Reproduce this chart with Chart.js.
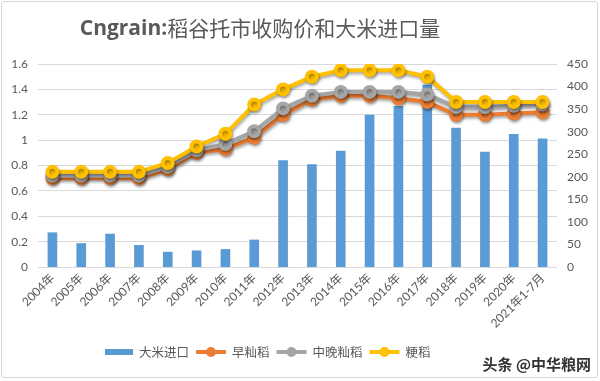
<!DOCTYPE html>
<html><head><meta charset="utf-8">
<script src="https://cdn.jsdelivr.net/npm/chart.js@4.4.1/dist/chart.umd.min.js"></script>
<style>
html,body{margin:0;padding:0;background:#fff;}
#wrap{position:relative;width:600px;height:381px;}
#frame{position:absolute;left:1px;top:1px;width:597px;height:377px;border:1px solid #d6d6d6;border-radius:3px;box-sizing:border-box;pointer-events:none}
canvas{position:absolute;left:0;top:0}
</style></head><body>
<div id="wrap"><canvas id="c" width="600" height="381"></canvas><div id="frame"></div></div>
<script>
const categories = ['2004年','2005年','2006年','2007年','2008年','2009年','2010年','2011年','2012年','2013年','2014年','2015年','2016年','2017年','2018年','2019年','2020年','2021年1-7月'];
const riceImports = [76, 52, 73, 48, 33, 36, 39, 60, 236, 227, 257, 337, 356, 403, 308, 255, 294, 284];
const earlyIndica = [0.70, 0.70, 0.70, 0.70, 0.77, 0.90, 0.93, 1.02, 1.20, 1.32, 1.35, 1.35, 1.33, 1.30, 1.20, 1.20, 1.21, 1.22];
const midLateIndica = [0.72, 0.72, 0.72, 0.72, 0.79, 0.92, 0.97, 1.07, 1.25, 1.35, 1.38, 1.38, 1.38, 1.36, 1.26, 1.26, 1.27, 1.28];
const japonica = [0.75, 0.75, 0.75, 0.75, 0.82, 0.95, 1.05, 1.28, 1.40, 1.50, 1.55, 1.55, 1.55, 1.50, 1.30, 1.30, 1.30, 1.30];
const seriesNames = ['大米进口', '早籼稻', '中晚籼稻', '粳稻'];
const titleLatin = 'Cngrain:';
const titleCJK = '稻谷托市收购价和大米进口量';
const watermark = '头条 @中华粮网';

const colors = ['#5B9BD5', '#ED7D31', '#A5A5A5', '#FFC000'];
const tickColor = '#595959';
const tickFont = {family: "Lato, 'Noto Sans CJK SC', sans-serif", size: 12};

const lineDs = (label, data, color, order) => ({
  type: 'line', label, data, yAxisID: 'y', order,
  borderColor: color, backgroundColor: color, borderWidth: 4,
  pointRadius: 5, pointHoverRadius: 5, pointBackgroundColor: color, pointBorderColor: color,
  tension: 0, fill: false
});

const decor = {
  id: 'decor',
  beforeDatasetDraw(chart, args) {
    const ctx = chart.ctx;
    ctx.save();
    if (args.meta.type === 'line') {
      ctx.shadowColor = 'rgba(0,0,0,0.35)';
      ctx.shadowBlur = 3;
      ctx.shadowOffsetX = 1;
      ctx.shadowOffsetY = 2;
    }
  },
  afterDatasetDraw(chart) { chart.ctx.restore(); },
  afterDraw(chart) {
    const ctx = chart.ctx;
    ctx.save();
    // title
    ctx.textBaseline = 'middle';
    ctx.fillStyle = '#595959';
    ctx.font = "bold 21px 'Open Sans', sans-serif";
    const w1 = ctx.measureText(titleLatin).width;
    ctx.font = "21px 'Noto Sans CJK SC', sans-serif";
    const w2 = ctx.measureText(titleCJK).width;
    let tx = 260 - (w1 + w2) / 2;
    ctx.font = "bold 21px 'Open Sans', sans-serif";
    ctx.fillText(titleLatin, tx, 29);
    ctx.font = "21px 'Noto Sans CJK SC', sans-serif";
    ctx.fillText(titleCJK, tx + w1, 28);
    // legend
    let x = 105; const y = 352;
    ctx.font = "12.5px 'Noto Sans CJK SC', sans-serif";
    seriesNames.forEach((name, i) => {
      ctx.fillStyle = colors[i];
      ctx.strokeStyle = colors[i];
      if (i === 0) {
        ctx.fillRect(x, y - 3, 28, 6);
      } else {
        ctx.lineWidth = 4;
        ctx.beginPath(); ctx.moveTo(x, y); ctx.lineTo(x + 30, y); ctx.stroke();
        ctx.beginPath(); ctx.arc(x + 15, y, 5, 0, Math.PI * 2); ctx.fill();
      }
      x += (i === 0 ? 28 : 30) + 6;
      ctx.fillStyle = '#595959';
      ctx.fillText(name, x, y);
      x += ctx.measureText(name).width + 7;
    });
    // watermark
    ctx.fillStyle = '#333333';
    ctx.font = "bold 15px 'Noto Sans CJK SC', sans-serif";
    ctx.textAlign = 'right';
    ctx.fillText(watermark, 591, 364);
    ctx.restore();
  }
};

new Chart(document.getElementById('c'), {
  data: {
    labels: categories,
    datasets: [
      {type: 'bar', label: seriesNames[0], data: riceImports, yAxisID: 'y1', order: 4,
       backgroundColor: colors[0], barThickness: 9},
      lineDs(seriesNames[1], earlyIndica, colors[1], 3),
      lineDs(seriesNames[2], midLateIndica, colors[2], 2),
      lineDs(seriesNames[3], japonica, colors[3], 1)
    ]
  },
  options: {
    responsive: false,
    animation: false,
    layout: {padding: {top: 64, left: 0, right: 0, bottom: 0}},
    plugins: {legend: {display: false}, title: {display: false}, tooltip: {enabled: false}},
    scales: {
      x: {
        grid: {display: false, drawTicks: false},
        border: {display: false},
        ticks: {color: tickColor, font: tickFont, maxRotation: 45, minRotation: 45, padding: 4, autoSkip: false},
        afterFit(s) { s.height = 114; }
      },
      y: {
        position: 'left', min: 0, max: 1.6,
        grid: {color: '#d9d9d9', drawTicks: false, lineWidth: 1},
        border: {display: false},
        ticks: {stepSize: 0.2, color: tickColor, font: tickFont, padding: 10,
          callback: v => String(Math.round(v * 10) / 10)},
        afterFit(s) { s.width = 38; }
      },
      y1: {
        position: 'right', min: 0, max: 450,
        grid: {display: false, drawTicks: false},
        border: {display: false},
        ticks: {stepSize: 50, color: tickColor, font: tickFont, padding: 10},
        afterFit(s) { s.width = 43; }
      }
    }
  },
  plugins: [decor]
});
</script>
</body></html>
